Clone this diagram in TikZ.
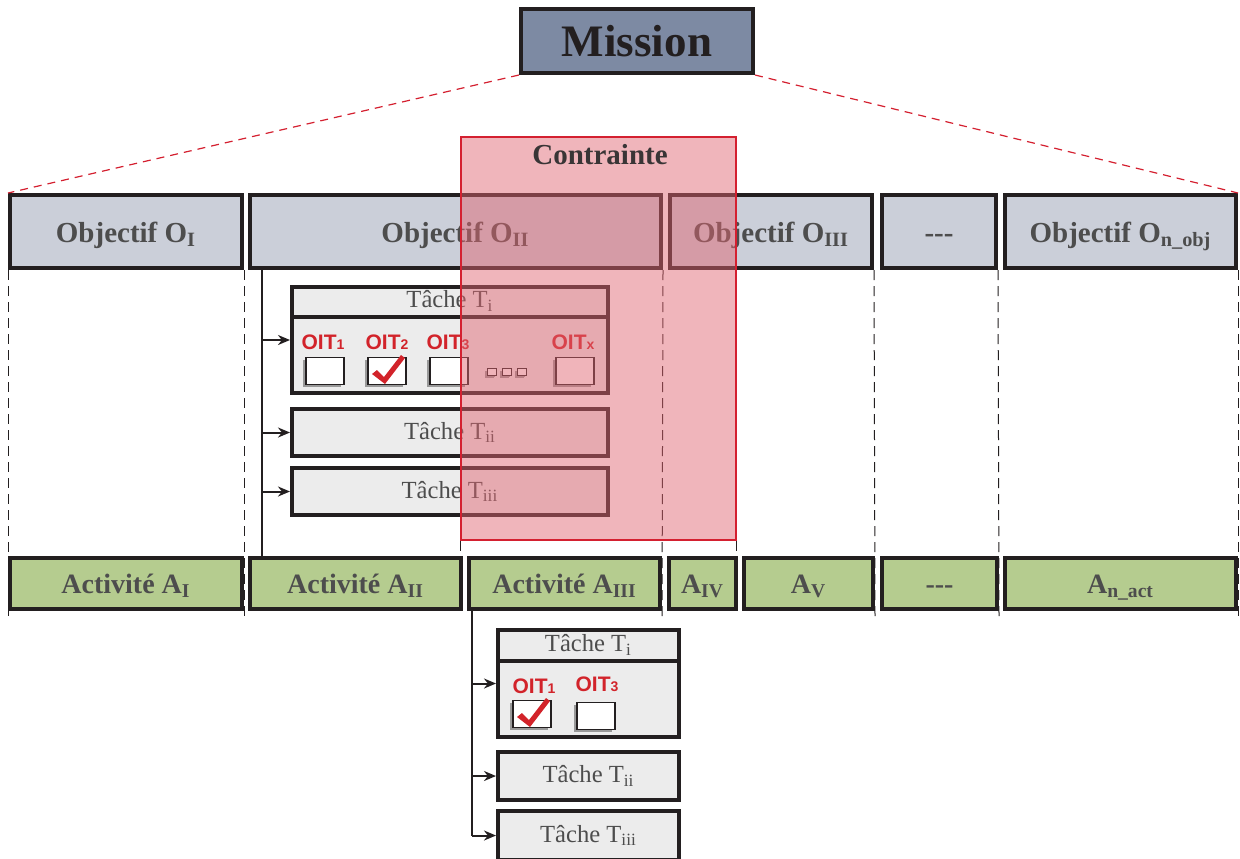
\documentclass[tikz,border=0pt]{standalone}
\usepackage{fontspec}
\setmainfont{Liberation Serif}
\newfontfamily\oitfont{Liberation Sans}
\usetikzlibrary{arrows.meta,shadows}

\definecolor{missionfill}{RGB}{125,138,163}
\definecolor{objfill}{RGB}{203,207,217}
\definecolor{actfill}{RGB}{181,204,143}
\definecolor{taskfill}{RGB}{236,236,236}
\definecolor{boxline}{RGB}{35,31,32}
\definecolor{txtgray}{RGB}{77,77,77}
\definecolor{oitred}{RGB}{210,35,42}
\definecolor{contrfill}{RGB}{224,100,112}
\definecolor{contrline}{RGB}{212,32,48}

\tikzset{
  box/.style={rectangle,draw=boxline,line width=2pt,inner sep=0pt},
  objbox/.style={box,fill=objfill,minimum height=36.5pt,text=txtgray,
    text height=10.5pt,text depth=0pt,font=\fontsize{14.5}{16}\selectfont\bfseries},
  actbox/.style={box,fill=actfill,minimum height=25.5pt,text=txtgray,
    text height=10pt,text depth=0pt,font=\fontsize{14}{16}\selectfont\bfseries},
  taskbox/.style={box,fill=taskfill,text=txtgray,font=\fontsize{12.3}{14}\selectfont},
  chkbox/.style={rectangle,draw=boxline,line width=0.6pt,fill=white,inner sep=0pt,
    minimum width=19pt,minimum height=13.5pt,
    drop shadow={shadow xshift=-1.3pt,shadow yshift=-1.3pt,fill=gray!80,opacity=1}},
  tinybox/.style={chkbox,minimum width=4.2pt,minimum height=3.4pt,line width=0.4pt,
    drop shadow={shadow xshift=-0.6pt,shadow yshift=-0.6pt,fill=gray!80,opacity=1}},
  oit/.style={text=oitred,inner sep=0pt,font=\oitfont\fontsize{10.5}{12}\selectfont\bfseries},
  conn/.style={draw=boxline,line width=1pt},
  sep/.style={draw=boxline,line width=0.5pt,dash pattern=on 5pt off 3pt},
  reddash/.style={draw=contrline,line width=0.6pt,dash pattern=on 4pt off 3pt},
  >={Stealth[length=6pt,width=5pt]}
}

% red tick inside a checkbox
\newcommand{\redtick}[1]{%
  \fill[oitred] ([shift={(-15,3)}]#1.center) -- ([shift={(-10,-1)}]#1.center)
    -- ([shift={(-3,6)}]#1.center) -- ([shift={(14,-16)}]#1.center)
    -- ([shift={(18,-13)}]#1.center) -- ([shift={(-2,13)}]#1.center) -- cycle;}

\begin{document}
\begin{tikzpicture}[x=0.5pt,y=-0.5pt]
  \useasboundingbox (0,0) rectangle (1240,858);

  % mission
  \node[box,fill=missionfill,minimum width=116pt,minimum height=32pt,text=boxline,
    font=\fontsize{22.5}{26}\selectfont\bfseries] at (637,41) (mission) {Mission};

  % objectives
  \node[objbox,minimum width=116pt] at (126,231.5) (OI) {Objectif O\textsubscript{I}};
  \node[objbox,minimum width=205.5pt] at (455.5,231.5) (OII) {Objectif O\textsubscript{II}};
  \node[objbox,minimum width=101pt] at (771,231.5) (OIII) {Objectif O\textsubscript{III}};
  \node[objbox,minimum width=57pt] at (939,231.5) (Odots) {-{}-{}-};
  \node[objbox,minimum width=115.5pt] at (1120.5,231.5) (On) {Objectif O\textsubscript{n\_obj}};

  \draw[reddash] (mission.south west) -- (OI.north west);
  \draw[reddash] (mission.south east) -- (On.north east);

  % activities
  \node[actbox,minimum width=116pt] at (126,583.5) (AI) {Activité A\textsubscript{I}};
  \node[actbox,minimum width=105.5pt] at (355.5,583.5) (AII) {Activité A\textsubscript{II}};
  \node[actbox,minimum width=95.5pt] at (564.5,583.5) (AIII) {Activité A\textsubscript{III}};
  \node[actbox,minimum width=33.5pt] at (702.5,583.5) (AIV) {A\textsubscript{IV}};
  \node[actbox,minimum width=64.5pt] at (808.5,583.5) (AV) {A\textsubscript{V}};
  \node[actbox,minimum width=57.5pt] at (939.5,583.5) (Adots) {-{}-{}-};
  \node[actbox,minimum width=115.5pt] at (1120.5,583.5) (An) {A\textsubscript{n\_act}};

  % tasks of O_II
  \node[taskbox,minimum width=158pt,minimum height=53pt] at (450,340) (TiA) {};
  \draw[box] (TiA.west |- 0,317) -- (TiA.east |- 0,317);
  \node[taskbox,fill=none,draw=none] at (450,301) (hdA) {Tâche T\textsubscript{i}};
  \node[taskbox,minimum width=158pt,minimum height=23.5pt] at (450,432.5) (TiiA) {Tâche T\textsubscript{ii}};
  \node[taskbox,minimum width=158pt,minimum height=23.5pt] at (450,491.5) (TiiiA) {Tâche T\textsubscript{iii}};

  \node[oit] at (323,342) (oA1) {OIT{\fontsize{7}{8}\selectfont 1}};
  \node[oit] at (387,342) (oA2) {OIT{\fontsize{7}{8}\selectfont 2}};
  \node[oit] at (448,342) (oA3) {OIT{\fontsize{7}{8}\selectfont 3}};
  \node[oit] at (573,342) (oAx) {OIT{\fontsize{7}{8}\selectfont x}};
  \node[chkbox] at (325,371) (cA1) {};
  \node[chkbox] at (387,371) (cA2) {};
  \node[chkbox] at (449,371) (cA3) {};
  \node[chkbox] at (575,371) (cAx) {};
  \foreach \i/\xx in {1/492,2/507,3/522}
    \node[tinybox] at (\xx,372) (dot\i) {};
  \redtick{cA2}

  % tasks of A_III
  \node[taskbox,minimum width=90.5pt,minimum height=53.5pt] at (588.5,683.5) (TiB) {};
  \draw[box] (TiB.west |- 0,661) -- (TiB.east |- 0,661);
  \node[taskbox,fill=none,draw=none] at (588.5,645) (hdB) {Tâche T\textsubscript{i}};
  \node[taskbox,minimum width=90.5pt,minimum height=24pt] at (588.5,776) (TiiB) {Tâche T\textsubscript{ii}};
  \node[taskbox,minimum width=90.5pt,minimum height=24.5pt] at (588.5,835.5) (TiiiB) {Tâche T\textsubscript{iii}};

  \node[oit] at (534,686) (oB1) {OIT{\fontsize{7}{8}\selectfont 1}};
  \node[oit] at (597,684) (oB3) {OIT{\fontsize{7}{8}\selectfont 3}};
  \node[chkbox] at (532,714) (cB1) {};
  \node[chkbox] at (596,716) (cB3) {};
  \redtick{cB1}

  % dashed separators
  \draw[sep] (OI.south west) -- ([yshift=-4pt]AI.south west);
  \draw[sep] (OI.south east) -- ([yshift=-4pt]AI.south east);
  \draw[sep] (OII.south east) -- ([yshift=-3pt]AIII.south east);
  \draw[sep] (OIII.south east) -- ([yshift=-4pt]AV.south east);
  \draw[sep] (Odots.south east) -- ([yshift=-4pt]Adots.south east);
  \draw[sep] (On.south east) -- ([yshift=-4pt]An.south east);

  % links
  \coordinate (busA) at (262,0);
  \draw[conn] (busA |- OII.south) -- (busA |- AII.north);
  \foreach \t in {TiA,TiiA,TiiiA}
    \draw[conn,->] (busA |- \t.west) -- (\t.west);
  \coordinate (busB) at (472,0);
  \draw[conn] (busB |- AIII.south) -- (busB |- TiiiB.west);
  \foreach \t in {TiB,TiiB,TiiiB}
    \draw[conn,->] (busB |- \t.west) -- (\t.west);

  % constraint
  \node[draw=contrline,line width=0.8pt,fill=contrfill,fill opacity=0.48,
    minimum width=137.5pt,minimum height=201.5pt] at (598.5,338.5) (contr) {};
  \node[text=boxline!90,font=\fontsize{14.5}{16}\selectfont\bfseries] at (600,155) (contrtxt) {Contrainte};
  \draw[sep] (contr.south west) -- (contr.south west |- AII.north);
  \draw[sep] (contr.south east) -- (contr.south east |- AIV.north);

\end{tikzpicture}
\end{document}
